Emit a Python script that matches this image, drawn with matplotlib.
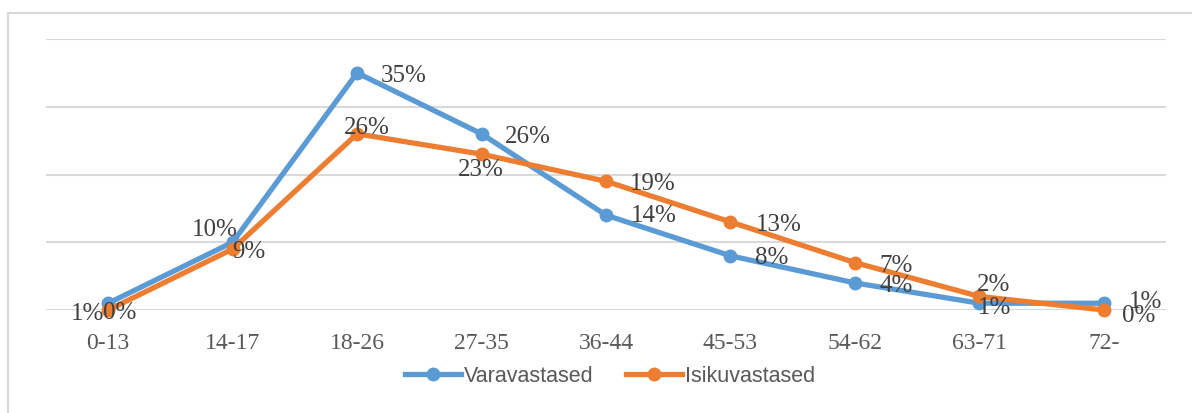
import matplotlib
matplotlib.use("Agg")
import matplotlib.pyplot as plt
from matplotlib.lines import Line2D

# ── Data ─────────────────────────────────────────────────────────
categories = ["0-13", "14-17", "18-26", "27-35", "36-44", "45-53", "54-62", "63-71", "72-"]
vara = [1, 10, 35, 26, 14, 8, 4, 1, 1]
isiku = [0, 9, 26, 23, 19, 13, 7, 2, 0]

# label offsets in pixels (dx, dy) relative to the point
vara_off = [(-21, -10), (-18, 13), (47, -2), (46, -2), (48, 0), (41, -1), (41, -2), (15, -4), (42, 2)]
isiku_off = [(11, -2), (16, -2), (10, 7), (-1, -15), (47, -2), (48, -2), (41, -2), (14, 12), (35, -5)]

BLUE = "#5B9BD5"
ORANGE = "#ED7D31"
GRID = "#D9D9D9"
TXT = "#595959"

W, H = 1192, 414
fig = plt.figure(figsize=(W / 100, H / 100), dpi=100)
ax = fig.add_axes([46 / W, (H - 311) / H, 1120 / W, 271 / H])

x = list(range(len(categories)))
ax.plot(x, vara, color=BLUE, lw=3.8, marker="o", ms=9, clip_on=False, zorder=4,
        label="Varavastased")
ax.plot(x, isiku, color=ORANGE, lw=3.8, marker="o", ms=9, clip_on=False, zorder=5,
        label="Isikuvastased")

for vals, offs in ((vara, vara_off), (isiku, isiku_off)):
    for i, v in enumerate(vals):
        ax.annotate(f"{v}%", (i, v), xytext=offs[i], textcoords="offset pixels",
                    ha="center", va="center", fontsize=18, color="#404040",
                    family="Liberation Serif", zorder=6, annotation_clip=False)

ax.set_xlim(-0.5, len(categories) - 0.5)
ax.set_ylim(0, 40)
ax.set_yticks([0, 10, 20, 30, 40])
ax.set_yticklabels([])
ax.grid(axis="y", color=GRID, lw=1.5)
ax.set_axisbelow(True)
ax.tick_params(axis="y", length=0)
ax.set_xticks(x)
ax.set_xticklabels(categories, family="Liberation Serif", fontsize=17, color=TXT)
ax.tick_params(axis="x", length=0, pad=16)
for s in ax.spines.values():
    s.set_visible(False)

fig.legend(loc="center", bbox_to_anchor=(610 / W, 1 - 377 / H), ncol=2, frameon=False,
           prop={"family": "Liberation Sans", "size": 15.5}, labelcolor=TXT,
           handlelength=2.6, handletextpad=0.15, columnspacing=1.5)

# chart frame (left and top edges)
fig.add_artist(Line2D([8 / W, 8 / W], [0, 1 - 14 / H], color=GRID, lw=1.5))
fig.add_artist(Line2D([8 / W, 1], [1 - 14 / H, 1 - 14 / H], color=GRID, lw=1.5))

fig.savefig("out.png", dpi=100)
